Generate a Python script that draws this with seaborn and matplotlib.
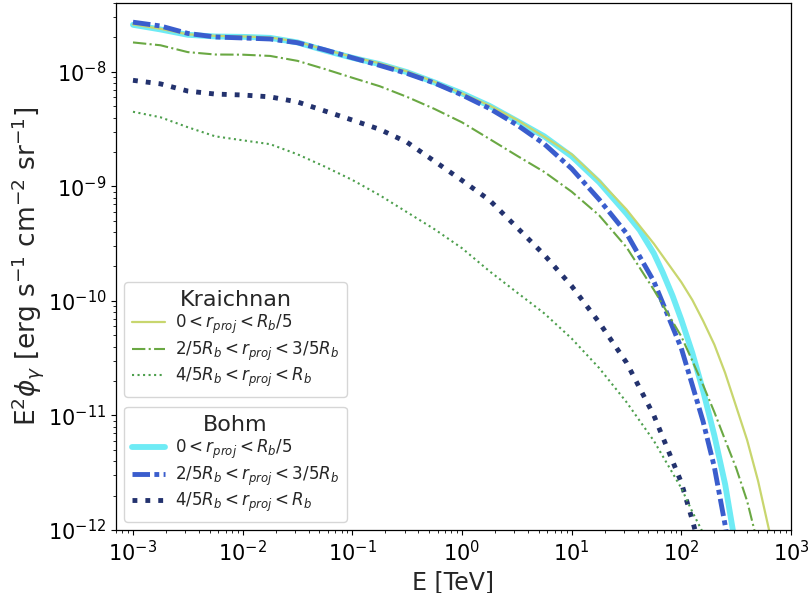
import matplotlib
matplotlib.use("Agg")
import matplotlib.pyplot as plt
import seaborn as sns
import pandas as pd

# ---------------- data ----------------
E_grid = [1.0e-3, 1.78e-3, 3.16e-3, 5.62e-3, 1.0e-2, 1.78e-2, 3.16e-2, 5.62e-2,
          0.1, 0.178, 0.316, 0.562, 1.0, 1.78, 3.16, 5.62, 10.0, 17.8, 31.6, 56.2, 100.0]

# Kraichnan, 0 < r < Rb/5
E_k0 = E_grid + [126, 158, 200, 251, 316, 398, 501, 631, 708]
phi_k0 = [2.60e-8, 2.38e-8, 2.13e-8, 2.065e-8, 2.045e-8, 2.00e-8, 1.84e-8, 1.565e-8,
          1.355e-8, 1.19e-8, 1.01e-8, 8.2e-9, 6.5e-9, 5.1e-9, 3.82e-9, 2.72e-9,
          1.91e-9, 1.13e-9, 6.3e-10, 3.16e-10, 1.46e-10,
          1.02e-10, 6.7e-11, 4.16e-11, 2.35e-11, 1.2e-11, 6.1e-12, 2.68e-12, 1.0e-12, 5.6e-13]

# Kraichnan, 2/5 Rb < r < 3/5 Rb
E_k1 = E_grid + [126, 158, 200, 251, 316, 398, 501]
phi_k1 = [1.81e-8, 1.71e-8, 1.49e-8, 1.42e-8, 1.415e-8, 1.38e-8, 1.25e-8, 1.06e-8,
          8.9e-9, 7.5e-9, 6.05e-9, 4.75e-9, 3.63e-9, 2.6e-9, 1.86e-9, 1.34e-9,
          9.0e-10, 5.6e-10, 2.95e-10, 1.25e-10, 4.9e-11,
          3.0e-11, 1.84e-11, 1.07e-11, 6.1e-12, 3.48e-12, 1.79e-12, 7.4e-13]

# Kraichnan, 4/5 Rb < r < Rb
E_k2 = E_grid + [126, 158, 200]
phi_k2 = [4.49e-9, 4.02e-9, 3.29e-9, 2.74e-9, 2.53e-9, 2.34e-9, 1.91e-9, 1.49e-9,
          1.14e-9, 8.38e-10, 5.95e-10, 4.23e-10, 2.89e-10, 1.82e-10, 1.19e-10, 7.8e-11,
          4.7e-11, 2.6e-11, 1.31e-11, 6.0e-12, 2.32e-12,
          1.44e-12, 9.4e-13, 5.5e-13]

# Bohm, 0 < r < Rb/5
E_b0 = [1.0e-3, 1.78e-3, 3.16e-3, 5.62e-3, 1.0e-2, 1.78e-2, 3.16e-2, 5.62e-2,
        0.1, 0.178, 0.316, 0.562, 1.0, 1.78, 3.16, 5.62, 10.0, 17.8, 31.6,
        41.7, 56.2, 67.6, 83.2, 100.0, 126, 158, 200, 251, 295, 331]
phi_b0 = [2.58e-8, 2.35e-8, 2.11e-8, 2.04e-8, 2.025e-8, 1.985e-8, 1.81e-8, 1.54e-8,
          1.33e-8, 1.17e-8, 9.95e-9, 8.1e-9, 6.5e-9, 5.06e-9, 3.74e-9, 2.74e-9,
          1.835e-9, 1.09e-9, 5.8e-10,
          4.16e-10, 2.6e-10, 1.78e-10, 1.11e-10, 6.86e-11, 3.52e-11, 1.64e-11,
          6.7e-12, 2.5e-12, 1.0e-12, 4.5e-13]

# Bohm, 2/5 Rb < r < 3/5 Rb
E_b1 = E_grid + [126, 158, 200, 251, 282]
phi_b1 = [2.72e-8, 2.52e-8, 2.17e-8, 2.02e-8, 1.98e-8, 1.94e-8, 1.80e-8, 1.56e-8,
          1.33e-8, 1.14e-8, 9.7e-9, 8.0e-9, 6.3e-9, 4.8e-9, 3.46e-9, 2.35e-9,
          1.43e-9, 7.7e-10, 3.9e-10, 1.48e-10, 3.86e-11,
          1.84e-11, 8.85e-12, 3.55e-12, 1.1e-12, 5.5e-13]

# Bohm, 4/5 Rb < r < Rb
E_b2 = E_grid + [126, 141]
phi_b2 = [8.45e-9, 7.87e-9, 6.81e-9, 6.41e-9, 6.29e-9, 6.06e-9, 5.47e-9, 4.56e-9,
          3.80e-9, 3.15e-9, 2.43e-9, 1.66e-9, 1.13e-9, 7.6e-10, 4.4e-10, 2.53e-10,
          1.35e-10, 6.5e-11, 2.9e-11, 1.0e-11, 2.6e-12,
          1.22e-12, 8.2e-13]

labels = [r'$0 < r_{proj} < R_b/5$',
          r'$2/5R_b < r_{proj} < 3/5R_b$',
          r'$4/5R_b < r_{proj} < R_b$']
xticks = [1e-3, 1e-2, 1e-1, 1e0, 1e1, 1e2, 1e3]
yticks = [1e-12, 1e-11, 1e-10, 1e-9, 1e-8]

# ---------------- plotting ----------------
sns.set_style("ticks")
plt.rcParams['font.family'] = ['DejaVu Sans']
plt.rcParams['axes.edgecolor'] = 'black'
plt.rcParams['xtick.color'] = 'black'
plt.rcParams['ytick.color'] = 'black'

fig = plt.figure(figsize=(8.11, 5.93), dpi=100)
ax = fig.add_axes([116/811, 63/593, 675/811, 527/593])
ax.set_xscale('log')
ax.set_yscale('log')

def draw(E, phi, color, lw, dashes=None):
    df = pd.DataFrame({'E': E, 'phi': phi})
    sns.lineplot(data=df, x='E', y='phi', ax=ax, color=color, linewidth=lw,
                 legend=False, estimator=None, sort=False)
    ln = ax.lines[-1]
    ln.set_solid_joinstyle('round')
    if dashes is not None:
        ln.set_dashes(dashes)
    return ln

h_b0 = draw(E_b0, phi_b0, '#6eebf5', 4.2)
h_k0 = draw(E_k0, phi_k0, '#c8d66e', 1.6)
h_b1 = draw(E_b1, phi_b1, '#3a5dcd', 3.5, (3.6, 0.9, 1.0, 0.9))
h_k1 = draw(E_k1, phi_k1, '#6aa843', 1.5, (6.4, 1.6, 1.0, 1.6))
h_b2 = draw(E_b2, phi_b2, '#23326e', 3.5, (1.0, 1.65))
h_k2 = draw(E_k2, phi_k2, '#4d9f4d', 1.5, (1.0, 1.65))

ax.set_xlim(7e-4, 1e3)
ax.set_ylim(1e-12, 4e-8)
ax.set_xticks(xticks)
ax.set_yticks(yticks)
ax.set_xlabel('E [TeV]', fontsize=17)
ax.set_ylabel(r'E$^2\phi_\gamma$ [erg s$^{-1}$ cm$^{-2}$ sr$^{-1}$]', fontsize=19,
              labelpad=1)
ax.tick_params(axis='both', which='major', labelsize=15)
for s in ax.spines.values():
    s.set_visible(True)
    s.set_linewidth(0.9)

leg_kw = dict(fontsize=12, title_fontsize=16, loc='lower left', labelspacing=0.2,
              handletextpad=0.6, borderpad=0.45)
leg1 = ax.legend([h_k0, h_k1, h_k2], labels, title='Kraichnan',
                 bbox_to_anchor=(0, 0.237), **leg_kw)
ax.add_artist(leg1)
leg2 = ax.legend([h_b0, h_b1, h_b2], labels, title='Bohm', **leg_kw)

fig.savefig('out.png', dpi=100)
